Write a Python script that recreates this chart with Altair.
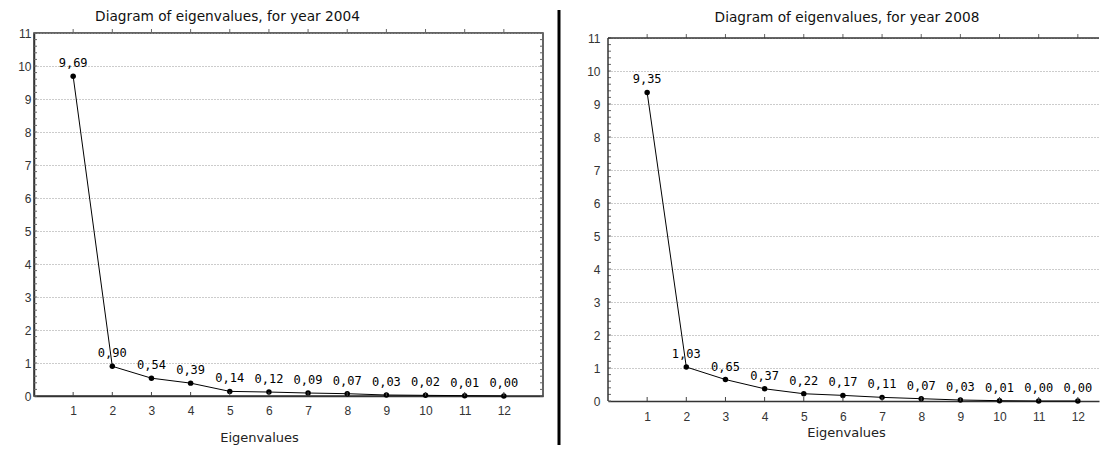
import altair as alt
import pandas as pd

components = list(range(1, 13))
eig_2004 = [9.69, 0.90, 0.54, 0.39, 0.14, 0.12, 0.09, 0.07, 0.03, 0.02, 0.01, 0.00]
eig_2008 = [9.35, 1.03, 0.65, 0.37, 0.22, 0.17, 0.11, 0.07, 0.03, 0.01, 0.00, 0.00]
x_ticks = list(range(1, 13))
y_ticks = list(range(0, 12))
y_minor = [round(i * 0.2, 1) for i in range(56)]
x_title = "Eigenvalues"

H = 363
TXT = "DejaVu Sans"


def panel(values, year, W, xmax, top_pad, yextent, ylabpad, xlabpad, titley,
          title_dx, title_offset, ax_title_x, frame):
    HP = H + top_pad
    ymax = 11.0 * HP / H
    df = pd.DataFrame({"k": components, "v": values})
    mdf = pd.DataFrame({"v": y_minor})
    base = alt.Chart(df).transform_calculate(
        label="replace(format(datum.v, '.2f'), '.', ',')"
    )
    xs = alt.Scale(domain=[0, xmax], nice=False, zero=False)
    ys = alt.Scale(domain=[0, ymax], nice=False, zero=False)
    x = alt.X("k:Q", scale=xs, axis=alt.Axis(
        values=x_ticks, title=x_title, grid=False, tickSize=0, labelPadding=xlabpad,
        domainColor="#333", domainWidth=1.5, labelFont="Liberation Sans",
        labelFontSize=12, labelColor="#333", titleFont=TXT, titleFontSize=13,
        titleFontWeight="normal", titleColor="#222", titleX=ax_title_x, titleY=titley,
        titleAlign="center", titleBaseline="top", labelFlush=False))
    y = alt.Y("v:Q", scale=ys, axis=alt.Axis(
        values=y_ticks, grid=True, gridDash=[1, 2], gridColor="#999", gridWidth=1,
        tickSize=0, labelPadding=ylabpad, domain=frame, domainColor="#333",
        domainWidth=1.5, title=None, labelFont="Liberation Sans", labelFontSize=12,
        labelColor="#333", minExtent=yextent, maxExtent=yextent, labelFlush=False))

    line = base.mark_line(color="black", strokeWidth=1).encode(x=x, y=y)
    pts = base.mark_point(filled=True, color="black", size=30, opacity=1).encode(x=x, y=y)
    inner_ticks = base.mark_rule(color="#444").encode(
        x=x, y=alt.value(HP), y2=alt.value(HP - 4))
    top_ticks = base.mark_rule(color="#666").encode(
        x=x, y=alt.value(top_pad - 4), y2=alt.value(top_pad))
    labels = base.mark_text(dy=-13, font="DejaVu Sans Mono", fontSize=12,
                            color="#000").encode(x=x, y=y, text="label:N")
    left_minor = alt.Chart(mdf).mark_rule(color="#666", strokeWidth=1).encode(
        y=y, x=alt.value(0), x2=alt.value(3))
    layers = [line, pts, inner_ticks, top_ticks, labels, left_minor]
    one = pd.DataFrame({"a": [0]})
    if frame:
        right_minor = alt.Chart(mdf).mark_rule(color="#666", strokeWidth=1).encode(
            y=y, x=alt.value(W - 3), x2=alt.value(W))
        layers.append(right_minor)
    else:
        top_line = alt.Chart(one).mark_rule(color="#333", strokeWidth=1.5).encode(
            x=alt.value(0), x2=alt.value(W), y=alt.value(top_pad))
        left_line = alt.Chart(one).mark_rule(color="#333", strokeWidth=1.5).encode(
            x=alt.value(0), y=alt.value(top_pad), y2=alt.value(HP))
        layers += [top_line, left_line]
    ch = alt.layer(*layers).properties(
        width=W, height=HP,
        title=alt.TitleParams(
            f"Diagram of eigenvalues, for year {year}", font=TXT,
            fontSize=13.7, fontWeight="normal", color="#111", anchor="middle",
            dx=title_dx, offset=title_offset),
        view=alt.ViewBackground(stroke="#333" if frame else "transparent",
                                strokeWidth=1.5),
    )
    return ch


RW = 491
left = panel(eig_2004, 2004, 509, 13.0, 0, 25, 3, 9, 35, -61, 3, 225, True)
right = panel(eig_2008, 2008, RW, RW / (509 / 13.0), 5, 34, 8, 10, 25,
              (848 - 609) - RW / 2, 7, 238, False)

one = pd.DataFrame({"a": [0]})
separator = alt.Chart(one).mark_rule(color="black", strokeWidth=3).encode(
    x=alt.value(0), y=alt.value(-23), y2=alt.value(412)
).properties(width=1, height=H, view=alt.ViewBackground(stroke="transparent"))

chart = alt.hconcat(left, separator, right, spacing=12).properties(padding=0).configure(
    background="white"
)
chart.save("out.html", embed_options={"renderer": "svg", "actions": False})
